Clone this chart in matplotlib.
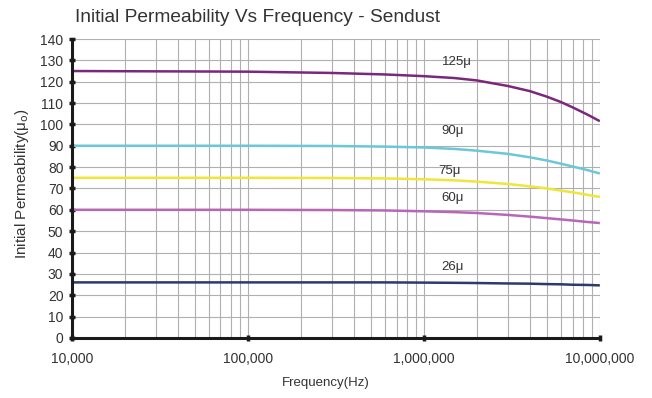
import numpy as np
import matplotlib
matplotlib.use("Agg")
import matplotlib.pyplot as plt
from matplotlib.ticker import FixedLocator, FuncFormatter, NullFormatter

plt.rcParams['font.family'] = ['Liberation Sans', 'DejaVu Sans']

# %% data
freq = [1e4, 1e5, 3e5, 6e5, 1e6, 1.5e6, 2e6, 3e6, 4e6, 5e6, 6e6, 7e6, 8.5e6, 1e7]
mu125 = [125, 124.7, 124.1, 123.4, 122.6, 121.7, 120.6, 118.0, 115.6, 113.0, 110.5, 108.0, 104.6, 101.5]
mu90 = [90, 90, 89.9, 89.6, 89.2, 88.5, 87.7, 86.2, 84.6, 83.1, 81.6, 80.3, 78.6, 77.0]
mu75 = [75, 75, 74.9, 74.7, 74.3, 73.8, 73.2, 72.1, 71.0, 70.0, 69.0, 68.2, 67.0, 66.0]
mu60 = [60, 60, 59.9, 59.7, 59.3, 58.9, 58.5, 57.6, 56.8, 56.1, 55.5, 55.0, 54.3, 53.8]
mu26 = [26, 26, 26, 26, 25.9, 25.8, 25.7, 25.5, 25.4, 25.2, 25.1, 24.9, 24.8, 24.6]

labels = ["125μ", "90μ", "75μ", "60μ", "26μ"]
label_x = [1.55e6, 1.45e6, 1.4e6, 1.45e6, 1.45e6]
label_y = [126.3, 94, 75.5, 62.8, 30.5]

fig = plt.figure(figsize=(6.52, 3.98), dpi=100)
ax = fig.add_axes([0.110, 0.151, 0.810, 0.751])

series = [mu125, mu90, mu75, mu60, mu26]
colors = ["#7a287c", "#6cc7d8", "#eee63a", "#b966b8", "#2c3a6c"]
for s, c in zip(series, colors):
    ax.plot(freq, s, color=c, lw=1.8, solid_capstyle='butt')

for t, lx, ly in zip(labels, label_x, label_y):
    ax.text(lx, ly, t, fontsize=9.5, color='#333333', ha='center', va='bottom')

ax.set_xscale('log')
ax.set_xlim(1e4, 1e7)
ax.set_ylim(0, 140)
ax.yaxis.set_major_locator(FixedLocator(np.arange(0, 141, 10)))
ax.xaxis.set_major_locator(FixedLocator([1e4, 1e5, 1e6, 1e7]))
minors = [m * 10**d for d in range(4, 7) for m in range(2, 10)]
ax.xaxis.set_minor_locator(FixedLocator(minors))
ax.xaxis.set_minor_formatter(NullFormatter())
ax.xaxis.set_major_formatter(FuncFormatter(lambda v, p: f"{int(round(v)):,}"))

ax.grid(True, which='both', axis='x', color='#b0b0b0', lw=0.8)
ax.grid(True, which='major', axis='y', color='#b0b0b0', lw=0.8)
ax.set_axisbelow(True)

for side in ['top', 'right']:
    ax.spines[side].set_visible(False)
for side in ['left', 'bottom']:
    ax.spines[side].set_linewidth(2.2)
    ax.spines[side].set_color('#1a1a1a')

ax.tick_params(axis='y', which='major', direction='inout', length=4, width=2.5,
               labelsize=10, pad=4, colors='#1a1a1a', labelcolor='#333333')
ax.tick_params(axis='x', which='major', direction='inout', length=4, width=2.5,
               labelsize=10, pad=8, colors='#1a1a1a', labelcolor='#333333')
ax.tick_params(axis='x', which='minor', length=0)

fig.text(0.115, 0.957, "Initial Permeability Vs Frequency - Sendust",
         fontsize=13.8, color='#333333', ha='left', va='center')
fig.text(0.034, 0.54, "Initial Permeability(μ$_\\mathrm{o}$)", fontsize=11,
         color='#333333', rotation=90, ha='center', va='center')
fig.text(0.50, 0.038, "Frequency(Hz)", fontsize=9.5, color='#333333',
         ha='center', va='center')

fig.savefig("out.png", dpi=100)
